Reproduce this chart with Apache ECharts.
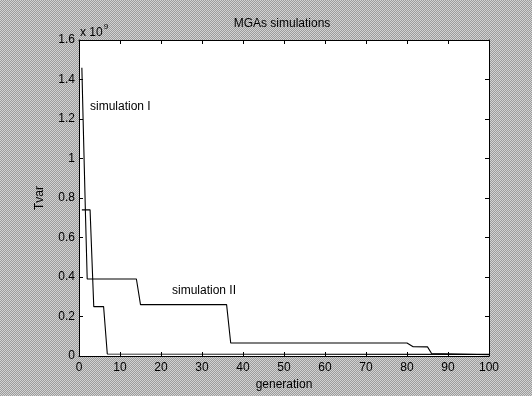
<!DOCTYPE html>
<html>
<head>
<meta charset="utf-8">
<script src="https://cdn.jsdelivr.net/npm/echarts@6/dist/echarts.min.js"></script>
<style>
  html, body { margin: 0; padding: 0; }
  body { background: repeating-conic-gradient(#9c9c9c 0 25%, #d2d2d2 0 50%) 0 0 / 2px 2px; }
  #chart { width: 532px; height: 396px; }
</style>
</head>
<body>
<div id="chart"></div>
<script>
// values in units of 1e9
const simOne = [
  [0.7, 1.46], [1.0, 1.2], [1.3, 0.95], [1.6, 0.7], [2, 0.39],
  [14, 0.39], [15, 0.26], [36, 0.26], [37, 0.066], [80, 0.066],
  [81.5, 0.047], [85, 0.046], [86, 0.013], [100, 0.006]
];
const simTwo = [
  [0.7, 0.74], [2.7, 0.74], [3.6, 0.25], [6, 0.25], [6.9, 0.01], [100, 0.008]
];
const xTicks = [0, 100, 10];
const yTicks = [0, 1.6, 0.2];

const font = "Liberation Sans";
const chart = echarts.init(document.getElementById("chart"));

const axisCommon = {
  axisLine: { show: true, onZero: false, lineStyle: { color: "#000", width: 1 } },
  axisTick: { show: true, inside: true, length: 4, lineStyle: { color: "#000" } },
  splitLine: { show: false },
};

chart.setOption({
  backgroundColor: "transparent",
  animation: false,
  grid: { left: 79, right: 43, top: 40, bottom: 40, show: true, backgroundColor: "#fff", borderWidth: 0 },
  xAxis: [
    {
      type: "value", min: xTicks[0], max: xTicks[1], interval: xTicks[2], position: "bottom",
      ...axisCommon,
      axisLabel: { color: "#000", fontFamily: font, fontSize: 12, margin: 6 },
      name: "generation", nameLocation: "middle", nameGap: 21,
      nameTextStyle: { color: "#000", fontFamily: font, fontSize: 12 },
    },
    {
      type: "value", min: xTicks[0], max: xTicks[1], interval: xTicks[2], position: "top",
      ...axisCommon,
      axisLabel: { show: false },
    },
  ],
  yAxis: [
    {
      type: "value", min: yTicks[0], max: yTicks[1], interval: yTicks[2], position: "left",
      ...axisCommon,
      axisLabel: {
        color: "#000", fontFamily: font, fontSize: 12, margin: 4,
        formatter: (v) => (Math.round(v * 10) / 10).toString(),
      },
      name: "Tvar", nameLocation: "middle", nameGap: 33, nameRotate: 90,
      nameTextStyle: { color: "#000", fontFamily: font, fontSize: 12 },
    },
    {
      type: "value", min: yTicks[0], max: yTicks[1], interval: yTicks[2], position: "right",
      ...axisCommon,
      axisLabel: { show: false },
    },
  ],
  series: [
    {
      name: "simulation I", type: "line", data: simOne, showSymbol: false,
      lineStyle: { color: "#000", width: 1.1 },
    },
    {
      name: "simulation II", type: "line", data: simTwo, showSymbol: false,
      lineStyle: { color: "#000", width: 1.1 },
    },
  ],
  graphic: [
    {
      type: "text", x: 282, y: 18,
      style: { text: "MGAs simulations", fill: "#000", font: "12px " + font, textAlign: "center" },
    },
    {
      type: "text", left: 80, top: 23,
      style: {
        text: "{b|x 10}{s|9}", fill: "#000",
        rich: {
          b: { fontFamily: font, fontSize: 12, fill: "#000", verticalAlign: "bottom" },
          s: { fontFamily: font, fontSize: 8, fill: "#000", verticalAlign: "top", padding: [0, 0, 8, 1] },
        },
      },
    },
    {
      type: "text", left: 90, top: 101,
      style: { text: "simulation I", fill: "#000", font: "12px " + font },
    },
    {
      type: "text", left: 172, top: 285,
      style: { text: "simulation II", fill: "#000", font: "12px " + font },
    },
  ],
});
</script>
</body>
</html>
